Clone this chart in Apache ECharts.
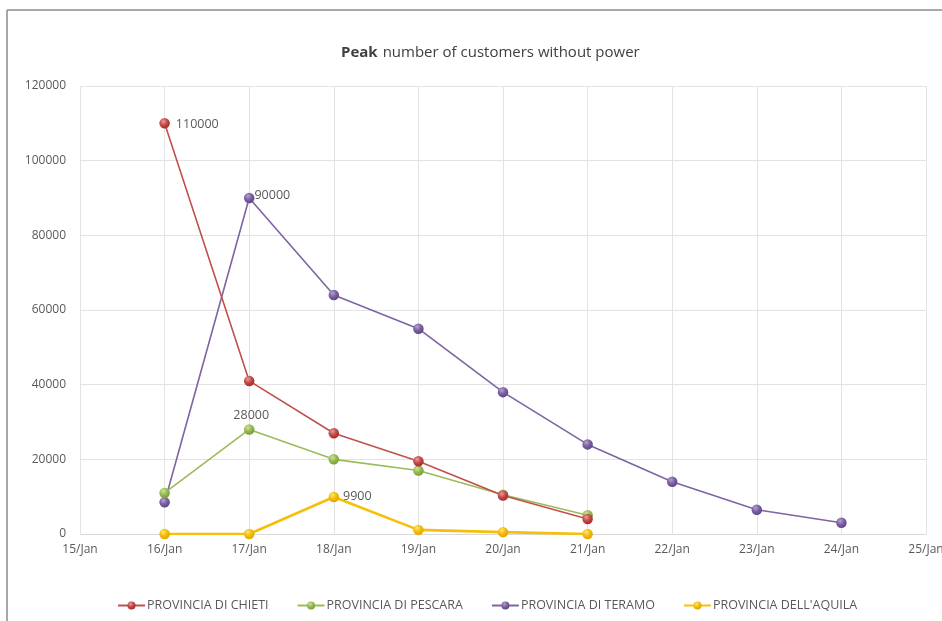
<!DOCTYPE html>
<html>
<head>
<meta charset="utf-8">
<script src="https://cdn.jsdelivr.net/npm/echarts@6/dist/echarts.min.js"></script>
<style>
  html, body { margin: 0; padding: 0; background: #fff; }
  #chart { width: 942px; height: 621px; }
</style>
</head>
<body>
<div id="chart"></div>
<script>
// Dates along the horizontal axis
const days = ['15/Jan', '16/Jan', '17/Jan', '18/Jan', '19/Jan', '20/Jan', '21/Jan', '22/Jan', '23/Jan', '24/Jan', '25/Jan'];

// Peak customers without power per province (null = no report that day)
const chieti  = [null, 110000, 41000, 27000, 19500, 10300, 4000, null, null, null, null];
const pescara = [null, 11000, 28000, 20000, 17000, 10500, 5000, null, null, null, null];
const teramo  = [null, 8500, 90000, 64000, 55000, 38000, 24000, 14000, 6500, 3000, null];
const aquila  = [null, 0, 0, 9900, 1100, 500, 0, null, null, null, null];

const names = ['PROVINCIA DI CHIETI', 'PROVINCIA DI PESCARA', 'PROVINCIA DI TERAMO', "PROVINCIA DELL'AQUILA"];

// Value ticks
const yMin = 0, yMax = 120000, yStep = 20000;

// Which point of each series carries a value label, and where
const labelled = [
  { idx: 1, pos: 'right', offset: [2, 1] },
  { idx: 2, pos: 'top', offset: [2, 2] },
  { idx: 2, pos: 'right', offset: [-4, -3] },
  { idx: 3, pos: 'right', offset: [0, -1] }
];

const lineColors = ['#c0504d', '#9bbb59', '#7e64a2', '#f5bf0a'];
const ballLight  = ['#f19a97', '#cde59a', '#b6a2d6', '#ffe680'];
const ballDark   = ['#a9201c', '#6e9a2a', '#5a3d86', '#dca000'];
const lineWidths = [1.6, 1.6, 1.6, 2.6];

const FONT = 'Open Sans, sans-serif';

function ball(i) {
  return new echarts.graphic.RadialGradient(0.38, 0.32, 0.75, [
    { offset: 0, color: ballLight[i] },
    { offset: 0.45, color: lineColors[i] },
    { offset: 1, color: ballDark[i] }
  ]);
}

const series = [chieti, pescara, teramo, aquila].map(function (values, i) {
  const lab = labelled[i];
  const data = values.map(function (v, k) {
    if (k === lab.idx && v !== null) {
      return {
        value: v,
        label: {
          show: true,
          position: lab.pos,
          offset: lab.offset,
          distance: 4,
          formatter: String(v),
          color: '#595959',
          fontSize: 12.5,
          fontFamily: FONT
        }
      };
    }
    return v;
  });
  return {
    name: names[i],
    type: 'line',
    data: data,
    symbol: 'circle',
    symbolSize: 10.5,
    showAllSymbol: true,
    connectNulls: false,
    lineStyle: { color: lineColors[i], width: lineWidths[i] },
    itemStyle: { color: ball(i), borderWidth: 0 },
    emphasis: { disabled: true },
    z: 2 + (3 - i)
  };
});

const chart = echarts.init(document.getElementById('chart'), null, { renderer: 'canvas' });

chart.setOption({
  animation: false,
  backgroundColor: '#ffffff',
  color: lineColors,
  title: {
    text: '{b|Peak} {n|number of customers without power}',
    left: 336,
    top: 39,
    textStyle: {
      fontWeight: 'normal',
      rich: {
        b: { fontWeight: 'bold', fontSize: 15, color: '#404040', fontFamily: FONT },
        n: { fontWeight: 'normal', fontSize: 15, color: '#404040', fontFamily: FONT }
      }
    }
  },
  grid: { left: 80, right: 16, top: 86, bottom: 87, containLabel: false, outerBoundsMode: 'none' },
  xAxis: {
    type: 'category',
    data: days,
    boundaryGap: false,
    axisLine: { show: true, lineStyle: { color: '#d9d9d9', width: 1 } },
    axisTick: { show: false },
    axisLabel: { color: '#595959', fontSize: 12, fontFamily: FONT, margin: 10, interval: 0, hideOverlap: false },
    splitLine: { show: true, lineStyle: { color: '#e3e3e3', width: 1 } }
  },
  yAxis: {
    type: 'value',
    min: yMin,
    max: yMax,
    interval: yStep,
    axisLine: { show: false },
    axisTick: { show: false },
    axisLabel: {
      color: '#595959', fontSize: 12, fontFamily: FONT, margin: 14,
      formatter: function (v) { return String(v); }
    },
    splitLine: { show: true, lineStyle: { color: '#e3e3e3', width: 1 } }
  },
  legend: {
    bottom: 4,
    left: 112,
    itemWidth: 27,
    itemHeight: 10,
    itemGap: 28,
    textStyle: { color: '#595959', fontSize: 12.5, fontFamily: FONT, padding: [0, 0, 0, -3] },
    data: names
  },
  graphic: [
    { type: 'line', shape: { x1: 7, y1: 10, x2: 942, y2: 10 }, style: { stroke: '#8c8c8c', lineWidth: 1.5 }, silent: true },
    { type: 'line', shape: { x1: 7, y1: 10, x2: 7, y2: 621 }, style: { stroke: '#8c8c8c', lineWidth: 1.5 }, silent: true }
  ],
  series: series
});
</script>
</body>
</html>
